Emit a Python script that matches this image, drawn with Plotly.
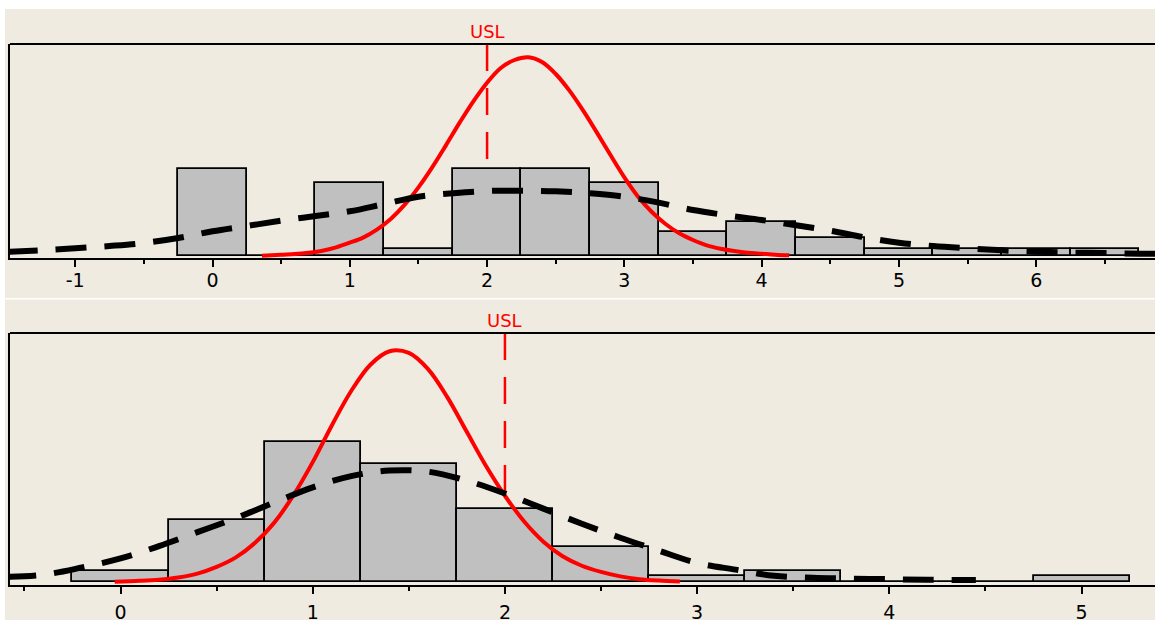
import plotly.graph_objects as go

# ---------------- data: top panel ----------------
top_bin_centers = [0, 0.5, 1, 1.5, 2, 2.5, 3, 3.5, 4, 4.5, 5, 5.5, 6, 6.5]
top_counts = [13, 0, 11, 1, 13, 13, 11, 3.6, 5.05, 2.65, 1, 1, 1, 1]

top_within_x = [0.36, 0.5, 0.6, 0.7, 0.8, 0.9, 1.0, 1.1, 1.2, 1.3, 1.4, 1.5, 1.6, 1.7, 1.8, 1.9,
                2.0, 2.1, 2.2, 2.3, 2.4, 2.5, 2.6, 2.7, 2.8, 2.9, 3.0, 3.1, 3.2, 3.3, 3.4, 3.5,
                3.6, 3.7, 3.8, 3.9, 4.0, 4.1, 4.2]
top_within_y = [0.05, 0.2, 0.3, 0.5, 0.8, 1.3, 2.0, 2.8, 4.0, 5.6, 7.7, 10.3, 13.3, 16.6, 20.0, 23.2,
                26.0, 28.2, 29.4, 29.8, 29.1, 27.3, 24.8, 21.8, 18.5, 15.1, 11.8, 8.9, 6.6, 4.8, 3.4, 2.4,
                1.6, 1.1, 0.75, 0.5, 0.35, 0.2, 0.1]

top_overall_x = [-1.5, -1.25, -1.0, -0.75, -0.5, -0.25, 0.0, 0.25, 0.5, 0.75, 1.0, 1.25, 1.5, 1.75,
                 2.0, 2.25, 2.5, 2.75, 3.0, 3.25, 3.5, 3.75, 4.0, 4.25, 4.5, 4.75, 5.0, 5.25, 5.5,
                 5.75, 6.0, 6.25, 6.5, 6.75, 7.0]
top_overall_y = [0.6, 0.85, 1.15, 1.5, 1.95, 2.7, 3.7, 4.5, 5.3, 6.0, 6.7, 7.8, 8.9, 9.4,
                 9.75, 9.8, 9.7, 9.4, 8.9, 8.0, 6.9, 6.1, 5.4, 4.6, 3.8, 2.8, 2.0, 1.5, 1.15,
                 0.85, 0.65, 0.5, 0.45, 0.35, 0.3]

top_usl = 2.0
top_tick_vals = [-1, 0, 1, 2, 3, 4, 5, 6]
top_tick_text = ["-1", "0", "1", "2", "3", "4", "5", "6"]

# ---------------- data: bottom panel ----------------
bot_bin_centers = [0, 0.5, 1, 1.5, 2, 2.5, 3, 3.5, 4, 4.5, 5]
bot_counts = [2, 11, 25, 21, 13, 6.3, 1, 2, 0, 0, 1]

bot_within_x = [-0.03, 0.1, 0.2, 0.3, 0.4, 0.5, 0.6, 0.7, 0.8, 0.9, 1.0, 1.1, 1.2, 1.3, 1.4, 1.5,
                1.6, 1.7, 1.8, 1.9, 2.0, 2.1, 2.2, 2.3, 2.4, 2.5, 2.6, 2.7, 2.8, 2.91]
bot_within_y = [0.05, 0.2, 0.4, 0.8, 1.5, 2.7, 4.4, 7.0, 10.6, 15.5, 21.4, 28.0, 34.1, 38.8, 41.2, 40.9,
                38.0, 33.0, 26.9, 20.8, 15.4, 10.8, 7.2, 4.6, 2.9, 1.8, 1.0, 0.5, 0.25, 0.1]

bot_overall_x = [-0.6, -0.4, -0.2, 0.0, 0.2, 0.4, 0.6, 0.8, 1.0, 1.2, 1.4, 1.6, 1.8, 2.0, 2.2,
                 2.4, 2.6, 2.8, 3.0, 3.2, 3.4, 3.6, 3.8, 4.0, 4.2, 4.45]
bot_overall_y = [0.9, 1.3, 2.6, 4.2, 6.4, 8.9, 11.4, 14.2, 16.9, 18.9, 19.9, 19.7, 18.1, 15.8, 13.1,
                 10.4, 7.9, 5.6, 3.4, 2.2, 1.1, 0.75, 0.6, 0.5, 0.4, 0.35]

bot_usl = 2.0
bot_tick_vals = [0, 1, 2, 3, 4, 5]
bot_tick_text = ["0", "1", "2", "3", "4", "5"]

# ---------------- styling ----------------
W, H = 1155, 620
BEIGE = "#EFEBE1"
BAR_FILL = "#C0C0C0"
RED = "#FF0000"
FONT = "DejaVu Sans"

fig = go.Figure()

def add_panel(xa, ya, centers, counts, wx, wy, ox, oy):
    fig.add_trace(go.Bar(x=centers, y=counts, width=0.5, marker=dict(color=BAR_FILL,
                         line=dict(color="black", width=1.8)), xaxis=xa, yaxis=ya,
                         showlegend=False, hoverinfo="skip"))
    fig.add_trace(go.Scatter(x=wx, y=wy, mode="lines", line=dict(color=RED, width=4, shape="spline"),
                             xaxis=xa, yaxis=ya, showlegend=False, hoverinfo="skip"))
    fig.add_trace(go.Scatter(x=ox, y=oy, mode="lines",
                             line=dict(color="black", width=6, dash="31px,18px", shape="spline"),
                             xaxis=xa, yaxis=ya, showlegend=False, hoverinfo="skip"))

add_panel("x", "y", top_bin_centers, top_counts, top_within_x, top_within_y, top_overall_x, top_overall_y)
add_panel("x2", "y2", bot_bin_centers, bot_counts, bot_within_x, bot_within_y, bot_overall_x, bot_overall_y)

x_left = 10 / W

def xaxis_cfg(rng, vals, texts, anchor, standoff):
    return dict(domain=[x_left, 1.0], range=rng, anchor=anchor, tickmode="array",
                tickvals=vals, ticktext=texts, ticks="outside", ticklen=7, tickwidth=2,
                tickcolor="black", showline=True, linecolor="black", linewidth=2,
                showgrid=False, zeroline=False, automargin=False, ticklabelstandoff=standoff,
                tickfont=dict(family=FONT, size=19, color="black"),
                minor=dict(tickmode="linear", tick0=0, dtick=0.5, ticks="outside",
                           ticklen=4, tickwidth=2, tickcolor="black", showgrid=False))

def yaxis_cfg(dom, rng, anchor):
    return dict(domain=dom, range=rng, anchor=anchor, showline=True, linecolor="black",
                linewidth=2, showticklabels=False, ticks="", showgrid=False, zeroline=False,
                automargin=False)

top_dom = [(H - 258) / H, (H - 44) / H]
bot_dom = [(H - 585) / H, (H - 333) / H]

fig.update_layout(
    template="none",
    width=W, height=H,
    margin=dict(l=0, r=0, t=0, b=0),
    paper_bgcolor="white", plot_bgcolor="white",
    bargap=0, barmode="overlay",
    xaxis=xaxis_cfg([-1.475, 6.865], top_tick_vals, top_tick_text, "y", -3),
    yaxis=yaxis_cfg(top_dom, [-0.3, 31.8], "x"),
    xaxis2=xaxis_cfg([-0.575, 5.382], bot_tick_vals, bot_tick_text, "y2", 2),
    yaxis2=yaxis_cfg(bot_dom, [-0.54, 44.46], "x2"),
    showlegend=False,
)

shapes = [
    # beige panel backgrounds
    dict(type="rect", xref="paper", yref="paper", x0=5 / W, x1=1, y0=(H - 298) / H, y1=(H - 9) / H,
         fillcolor=BEIGE, line=dict(width=0), layer="below"),
    dict(type="rect", xref="paper", yref="paper", x0=5 / W, x1=1, y0=0, y1=(H - 299.5) / H,
         fillcolor=BEIGE, line=dict(width=0), layer="below"),
    # top borders of the plot areas
    dict(type="line", xref="x domain", yref="y domain", x0=0, x1=1, y0=1, y1=1,
         line=dict(color="black", width=2)),
    dict(type="line", xref="x2 domain", yref="y2 domain", x0=0, x1=1, y0=1, y1=1,
         line=dict(color="black", width=2)),
    # USL lines
    dict(type="line", xref="x", yref="y domain", x0=top_usl, x1=top_usl, y0=1, y1=0,
         line=dict(color=RED, width=2.5, dash="27px,17px"), layer="below"),
    dict(type="line", xref="x2", yref="y2 domain", x0=bot_usl, x1=bot_usl, y0=1, y1=0,
         line=dict(color=RED, width=2.5, dash="27px,17px"), layer="below"),
]
fig.update_layout(shapes=shapes)

fig.add_annotation(x=top_usl, xref="x", y=1, yref="y domain", text="USL", showarrow=False,
                   yanchor="bottom", yshift=0, font=dict(family=FONT, size=18, color=RED))
fig.add_annotation(x=bot_usl, xref="x2", y=1, yref="y2 domain", text="USL", showarrow=False,
                   yanchor="bottom", yshift=0, font=dict(family=FONT, size=18, color=RED))

fig.write_html("out.html", config={"displayModeBar": False},
               post_script="document.body.style.margin='0';document.body.style.overflow='hidden';")
